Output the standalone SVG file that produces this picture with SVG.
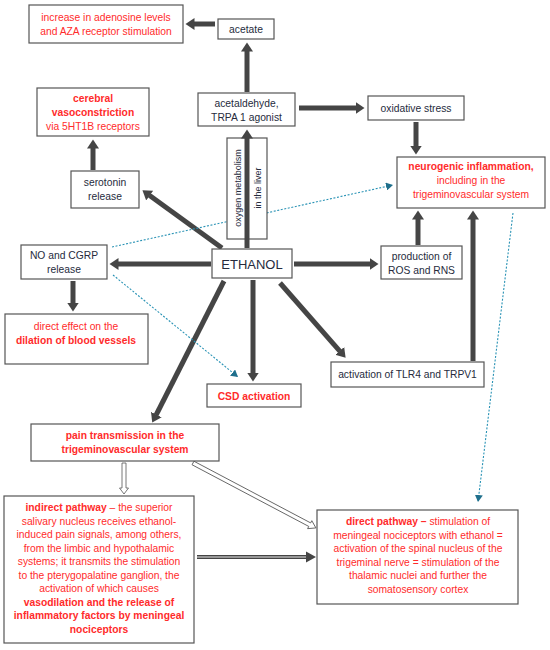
<svg xmlns="http://www.w3.org/2000/svg" width="550" height="650" viewBox="0 0 550 650">
<defs>
<style>
.box{fill:#fff;stroke:#555;stroke-width:1.2}
.t{font-family:"Liberation Sans",Arial,sans-serif;font-size:10.3px;fill:#262b3d;text-anchor:middle}
.r{fill:#ff2b2b}
.b{font-weight:bold}
.a{stroke:#454545;stroke-width:5;fill:none;marker-end:url(#ah)}
.d{stroke:#2a93b5;stroke-width:1.1;stroke-dasharray:2 1.6;fill:none;marker-end:url(#dh)}
.h{fill:#fff;stroke:#555;stroke-width:0.8}
</style>
<marker id="ah" markerUnits="userSpaceOnUse" markerWidth="10" markerHeight="12" refX="0.5" refY="6" orient="auto">
<path d="M0,0 L9,6 L0,12 z" fill="#454545"/>
</marker>
<marker id="dh" markerUnits="userSpaceOnUse" markerWidth="8" markerHeight="8" refX="7" refY="4" orient="auto">
<path d="M0,0 L7,4 L0,8 z" fill="#1f6f8c"/>
</marker>
</defs>
<rect width="550" height="650" fill="#fff"/>

<g id="connectors">
<line class="a" x1="215" y1="24" x2="194" y2="24"/>
<line class="a" x1="247" y1="92" x2="247" y2="51"/>
<line class="a" x1="93" y1="170" x2="93" y2="148"/>
<line class="a" x1="299" y1="108" x2="356" y2="108"/>
<line class="a" x1="416" y1="122" x2="416" y2="146"/>
<line class="a" x1="418" y1="245" x2="418" y2="219"/>
<line class="a" x1="473" y1="361" x2="473" y2="219"/>
<line class="a" x1="294" y1="264" x2="370" y2="264"/>
<line class="a" x1="280" y1="283" x2="340" y2="351.3"/>
<line class="a" x1="222" y1="248" x2="149.3" y2="195.3"/>
<line class="a" x1="211" y1="264" x2="118" y2="264"/>
<line class="a" x1="73" y1="281" x2="73" y2="303"/>
<line class="a" x1="253" y1="280" x2="253" y2="373"/>
<line class="a" x1="224" y1="281" x2="156.1" y2="415"/>
<polygon class="h" points="122,463 126,463 126,488 128.5,488 124,494 119.5,488 122,488"/>
<polygon class="h" transform="translate(193,463) rotate(27.85)" points="0,-2 132,-2 132,-4.5 139,0 132,4.5 132,2 0,2"/>
<line x1="197" y1="557" x2="307" y2="557" stroke="#454545" stroke-width="4"/>
<line x1="197" y1="557" x2="306" y2="557" stroke="#fff" stroke-width="0.9"/>
<path d="M306,551.5 L316,557 L306,562.5 z" fill="#454545"/>
<line class="d" x1="112" y1="247" x2="393" y2="185"/>
<line class="d" x1="113" y1="275" x2="238" y2="377"/>
<line class="d" x1="513" y1="213" x2="478" y2="502"/>
</g>

<g id="oxygen-metabolism">
<rect class="box" x="227" y="138" width="40" height="101"/>
<line class="a" x1="247" y1="248" x2="247" y2="138"/>
<text class="t" transform="translate(241,188) rotate(-90)" style="font-size:9px">oxygen metabolism</text>
<text class="t" transform="translate(261,188) rotate(-90)" style="font-size:9px">in the liver</text>
</g>

<g id="adenosine">
<rect class="box" x="29" y="5" width="154" height="38"/>
<text class="t r" x="106" y="21">increase in adenosine levels</text>
<text class="t r" x="106" y="34.5">and AZA receptor stimulation</text>
</g>

<g id="acetate">
<rect class="box" x="218" y="19" width="56" height="20"/>
<text class="t" x="246" y="32.5">acetate</text>
</g>

<g id="cerebral">
<rect class="box" x="37" y="88" width="112" height="48"/>
<text class="t r b" x="93" y="102">cerebral</text>
<text class="t r b" x="93" y="116">vasoconstriction</text>
<text class="t r" x="93" y="130">via 5HT1B receptors</text>
</g>

<g id="acetaldehyde">
<rect class="box" x="198" y="93" width="97" height="33"/>
<text class="t" x="246.5" y="107">acetaldehyde,</text>
<text class="t" x="246.5" y="120.5">TRPA 1 agonist</text>
</g>

<g id="oxidative">
<rect class="box" x="368" y="96" width="96" height="24"/>
<text class="t" x="416" y="111.5">oxidative stress</text>
</g>

<g id="neurogenic">
<rect class="box" x="397" y="157" width="148" height="51"/>
<text class="t r b" x="471" y="170">neurogenic inflammation,</text>
<text class="t r" x="471" y="184">including in the</text>
<text class="t r" x="471" y="197.5">trigeminovascular system</text>
</g>

<g id="serotonin">
<rect class="box" x="71" y="171" width="68" height="37"/>
<text class="t" x="105" y="186">serotonin</text>
<text class="t" x="105" y="200">release</text>
</g>

<g id="no-cgrp">
<rect class="box" x="21" y="245" width="86" height="34"/>
<text class="t" x="64" y="259">NO and CGRP</text>
<text class="t" x="64" y="273">release</text>
</g>

<g id="ethanol">
<rect class="box" x="212" y="249" width="80" height="29"/>
<text class="t" x="252" y="268.5" style="font-size:13px">ETHANOL</text>
</g>

<g id="ros">
<rect class="box" x="381" y="246" width="81" height="33"/>
<text class="t" x="421.5" y="260">production of</text>
<text class="t" x="421.5" y="273.5">ROS and RNS</text>
</g>

<g id="direct-effect">
<rect class="box" x="5" y="314" width="143" height="50"/>
<text class="t r" x="76" y="330">direct effect on the</text>
<text class="t r b" x="76" y="344">dilation of blood vessels</text>
</g>

<g id="tlr4">
<rect class="box" x="331" y="362" width="153" height="25"/>
<text class="t" x="407.5" y="377.5">activation of TLR4 and TRPV1</text>
</g>

<g id="csd">
<rect class="box" x="207" y="384" width="94" height="23"/>
<text class="t r b" x="254" y="399.5">CSD activation</text>
</g>

<g id="pain">
<rect class="box" x="31" y="424" width="188" height="37"/>
<text class="t r b" x="125" y="439">pain transmission in the</text>
<text class="t r b" x="125" y="453">trigeminovascular system</text>
</g>

<g id="indirect">
<rect class="box" x="4" y="496" width="190" height="147"/>
<text class="t r" x="99" y="511"><tspan class="b">indirect pathway</tspan> – the superior</text>
<text class="t r" x="99" y="524.5">salivary nucleus receives ethanol-</text>
<text class="t r" x="99" y="538">induced pain signals, among others,</text>
<text class="t r" x="99" y="551.5">from the limbic and hypothalamic</text>
<text class="t r" x="99" y="565">systems; it transmits the stimulation</text>
<text class="t r" x="99" y="578.5">to the pterygopalatine ganglion, the</text>
<text class="t r" x="99" y="592">activation of which causes</text>
<text class="t r b" x="99" y="605.5">vasodilation and the release of</text>
<text class="t r b" x="99" y="619">inflammatory factors by meningeal</text>
<text class="t r b" x="99" y="632.5">nociceptors</text>
</g>

<g id="direct">
<rect class="box" x="317" y="510" width="201" height="94"/>
<text class="t r" x="418" y="525"><tspan class="b">direct pathway –</tspan> stimulation of</text>
<text class="t r" x="418" y="538.5">meningeal nociceptors with ethanol =</text>
<text class="t r" x="418" y="552">activation of the spinal nucleus of the</text>
<text class="t r" x="418" y="565.5">trigeminal nerve = stimulation of the</text>
<text class="t r" x="418" y="579">thalamic nuclei and further the</text>
<text class="t r" x="418" y="592.5">somatosensory cortex</text>
</g>
</svg>
